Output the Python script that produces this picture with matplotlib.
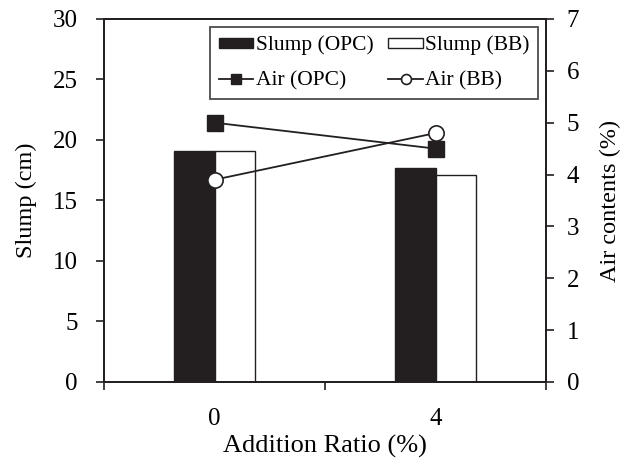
import matplotlib
matplotlib.use("Agg")
import matplotlib.pyplot as plt
import numpy as np

# data
ratios = ["0", "4"]
slump_opc = [19.1, 17.7]
slump_bb = [19.1, 17.1]
air_opc = [5.0, 4.5]
air_bb = [3.9, 4.8]

plt.rcParams["font.family"] = ["Liberation Serif", "DejaVu Serif"]
plt.rcParams["font.size"] = 18

ink = "#231f20"
x = np.arange(len(ratios))
width = 0.185

fig = plt.figure(figsize=(6.25, 4.63), dpi=100)
ax = fig.add_axes([0.1664, 0.175, 0.7072, 0.784])
b1 = ax.bar(x - width / 2, slump_opc, width, color=ink, edgecolor=ink, linewidth=1.0,
            label="Slump (OPC)")
b2 = ax.bar(x + width / 2, slump_bb, width, color="white", edgecolor=ink, linewidth=1.0,
            label="Slump (BB)")
ax.set_xlim(-0.5, 1.5)
ax.set_ylim(0, 30)
ax.set_yticks(range(0, 31, 5))
ax.set_xticks([-0.5, 0.5, 1.5])
ax.set_xticklabels([])
ax.set_xticks(x, minor=True)
ax.set_xticklabels(ratios, minor=True)
ax.tick_params(axis="x", which="minor", length=0, pad=19)
ax.tick_params(axis="x", which="major", direction="out", length=6, width=1.2, color=ink)
ax.tick_params(axis="y", direction="out", length=6, width=1.2, color=ink, pad=13)
ax.set_ylabel("Slump (cm)", fontsize=17.5, labelpad=11)
ax.set_xlabel("Addition Ratio (%)", fontsize=19, labelpad=3)
for s in ax.spines.values():
    s.set_linewidth(1.3)
    s.set_color(ink)

ax2 = ax.twinx()
l1, = ax2.plot(x, air_opc, "-s", color=ink, markersize=11, markerfacecolor=ink,
               markeredgecolor=ink, linewidth=1.3, label="Air (OPC)")
l2, = ax2.plot(x, air_bb, "-o", color=ink, markersize=11, markerfacecolor="white",
               markeredgecolor=ink, markeredgewidth=1.2, linewidth=1.3, label="Air (BB)")
ax2.set_ylim(0, 7)
ax2.set_yticks(range(0, 8))
ax2.tick_params(axis="y", direction="out", length=6, width=1.2, color=ink, pad=9)
ax2.set_ylabel("Air contents (%)", fontsize=17.5, labelpad=15)
for s in ax2.spines.values():
    s.set_linewidth(1.3)
    s.set_color(ink)

leg = ax2.legend([b1, l1, b2, l2],
                 ["Slump (OPC)", "Air (OPC)", "Slump (BB)", "Air (BB)"],
                 ncol=2, loc="upper right", bbox_to_anchor=(0.982, 0.978),
                 borderaxespad=0, fontsize=15.5, frameon=True, fancybox=False,
                 handlelength=1.6, handleheight=0.35, handletextpad=0.1,
                 columnspacing=0.7, labelspacing=0.75, borderpad=0.4,
                 markerscale=0.65)
leg.get_frame().set_edgecolor(ink)
leg.get_frame().set_linewidth(1.3)

fig.savefig("out.png", dpi=100)
